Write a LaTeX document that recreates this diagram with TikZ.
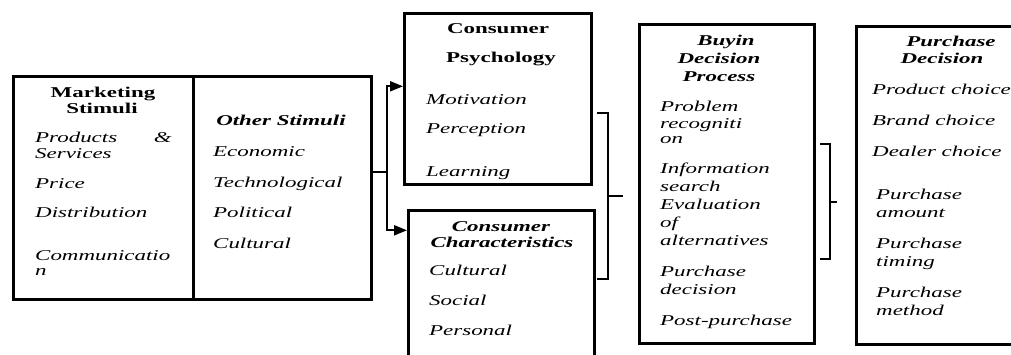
\documentclass[tikz,border=0pt]{standalone}
\usepackage{fontspec}
\setmainfont[FakeStretch=1.53]{Liberation Serif}
\usetikzlibrary{arrows.meta}

\begin{document}
\begin{tikzpicture}[
		x=1pt, y=-1pt,
		panel/.style={draw, line width=2.6pt, anchor=north west, inner sep=0pt},
		head/.style={font=\fontsize{15}{18}\selectfont\bfseries, inner sep=0pt, anchor=base},
		headit/.style={head, font=\fontsize{15}{18}\selectfont\bfseries\itshape},
		item/.style={font=\fontsize{15}{18}\selectfont\itshape, inner sep=0pt, anchor=base west},
		link/.style={line width=2pt},
		feed/.style={link, -{Triangle[length=13pt, width=10pt]}},
		brace/.style={line width=2.2pt}
		]
		
		\useasboundingbox (0,0) rectangle (1011,354);
		\clip (0,0) rectangle (1011,354);
		
		% Boxes
		\node[panel, minimum width=180pt, minimum height=223pt] (mkt) at (12,75) {};
		\node[panel, minimum width=178pt, minimum height=223pt] (other) at (192,75) {};
		\node[panel, minimum width=187pt, minimum height=171pt] (psy) at (403,12) {};
		\node[panel, minimum width=186pt, minimum height=151pt] (char) at (407,209) {};
		\node[panel, minimum width=175pt, minimum height=319pt] (buy) at (638,23) {};
		\node[panel, minimum width=175pt, minimum height=318pt] (pd) at (855,25) {};
		
		% Marketing stimuli
		\node[head] (mkth1) at (103,97) {Marketing};
		\node[head] (mkth2) at (102,113) {Stimuli};
		\node[item] (prod) at (35,142) {Products};
		\node[item, anchor=base east] (amp) at (172,142) {\&};
		\foreach \y/\txt [count=\i] in {158/Services, 188/Price, 217/Distribution, 260/Communicatio, 275/n} {
			\node[item] (mkt\i) at (35,\y) {\txt};
		}
		
		% Other stimuli
		\node[headit] (othh) at (281,125) {Other Stimuli};
		\foreach \y/\txt [count=\i] in {156/Economic, 187/Technological, 217/Political, 248/Cultural} {
			\node[item] (oth\i) at (213,\y) {\txt};
		}
		
		% Consumer psychology
		\node[head] (psyh1) at (498,33) {Consumer};
		\node[head] (psyh2) at (501,62) {Psychology};
		\foreach \y/\txt [count=\i] in {104/Motivation, 133/Perception, 176/Learning} {
			\node[item] (psy\i) at (426,\y) {\txt};
		}
		
		% Consumer characteristics
		\node[headit] (charh1) at (501,231) {Consumer};
		\node[headit] (charh2) at (502,247) {Characteristics};
		\foreach \y/\txt [count=\i] in {275/Cultural, 305/Social, 335/Personal} {
			\node[item] (char\i) at (429,\y) {\txt};
		}
		
		% Buying decision process
		\node[headit] (buyh1) at (726,45) {Buyin};
		\node[headit] (buyh2) at (719,63) {Decision};
		\node[headit] (buyh3) at (719,81) {Process};
		\foreach \y/\txt [count=\i] in {111/Problem, 128/recogniti, 143/on, 173/Information, 191/search,
			209/Evaluation, 227/of, 245/alternatives, 276/Purchase, 294/decision, 325/Post-purchase} {
			\node[item] (buy\i) at (660,\y) {\txt};
		}
		
		% Purchase decision
		\node[headit] (pdh1) at (951,46) {Purchase};
		\node[headit] (pdh2) at (942,63) {Decision};
		\foreach \y/\txt [count=\i] in {94/Product choice, 125/Brand choice, 156/Dealer choice} {
			\node[item] (pd\i) at (872,\y) {\txt};
		}
		\foreach \y/\txt [count=\i] in {199/Purchase, 217/amount, 248/Purchase, 266/timing, 297/Purchase, 315/method} {
			\node[item] (pdm\i) at (876,\y) {\txt};
		}
		
		% Stimuli feed both consumer boxes
		\coordinate (split) at (387,172);
		\draw[link] (split -| other.east) -- (split);
		\draw[feed] (split) |- ([yshift=12.5pt]psy.west);
		\draw[feed] (split) |- ([yshift=55.5pt]char.west);
		
		% Brackets
		\draw[brace] (597,113) -| (608,279) -- (597,279);
		\draw[brace] (608,196) -- (623,196);
		\draw[brace] (820,144) -| (830,259) -- (820,259);
		\draw[brace] (830,202) -- (837,202);
		
	\end{tikzpicture}
\end{document}
